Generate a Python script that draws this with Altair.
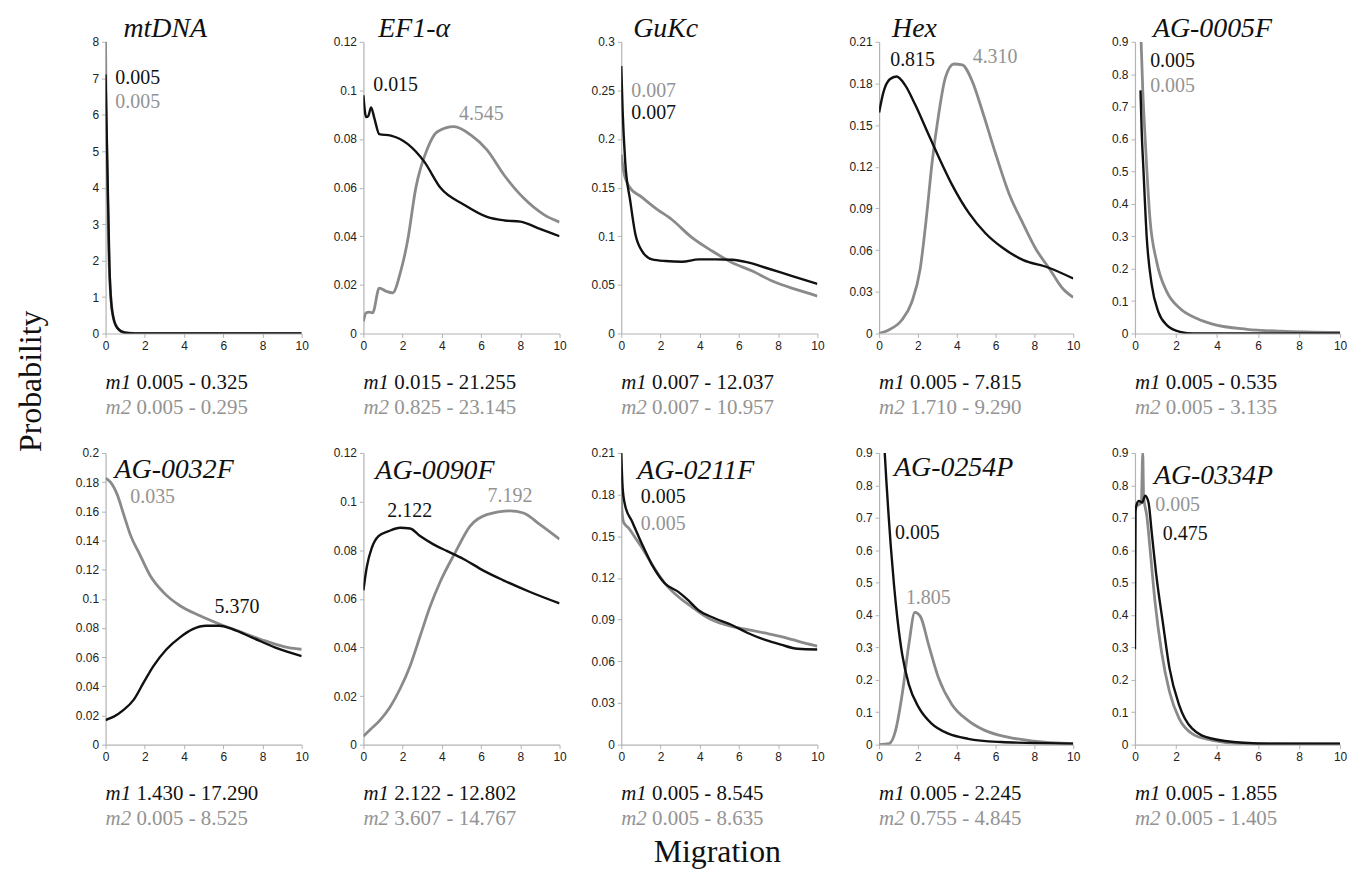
import altair as alt
import pandas as pd

# ---------------- data ----------------
PANELS = ["mtDNA", "EF1-\u03b1", "GuKc", "Hex", "AG-0005F",
          "AG-0032F", "AG-0090F", "AG-0211F", "AG-0254P", "AG-0334P"]
Y_MAX = [8, 0.12, 0.3, 0.21, 0.9, 0.2, 0.12, 0.21, 0.9, 0.9]
Y_STEP = [1, 0.02, 0.05, 0.03, 0.1, 0.02, 0.02, 0.03, 0.1, 0.1]

M1_MODE = [0.005, 0.015, 0.007, 0.815, 0.005, 5.370, 2.122, 0.005, 0.005, 0.475]
M2_MODE = [0.005, 4.545, 0.007, 4.310, 0.005, 0.035, 7.192, 0.005, 1.805, 0.005]
M1_LO = [0.005, 0.015, 0.007, 0.005, 0.005, 1.430, 2.122, 0.005, 0.005, 0.005]
M1_HI = [0.325, 21.255, 12.037, 7.815, 0.535, 17.290, 12.802, 8.545, 2.245, 1.855]
M2_LO = [0.005, 0.825, 0.007, 1.710, 0.005, 0.005, 3.607, 0.005, 0.755, 0.005]
M2_HI = [0.295, 23.145, 10.957, 9.290, 3.135, 8.525, 14.767, 8.635, 4.845, 1.405]

mtdna_m1_x = [0, 0.04, 0.13, 0.2, 0.34, 0.6, 1.0, 1.5, 10]
mtdna_m1_y = [7.1, 6.0, 3.6, 1.8, 0.6, 0.15, 0.02, 0, 0]
mtdna_m2_x = [0, 0.02, 0.08, 0.15, 0.3, 0.5, 0.9, 1.5, 10]
mtdna_m2_y = [8, 6.6, 4.5, 2.5, 0.8, 0.25, 0.03, 0, 0]

ef1_m1_x = [0, 0.14, 0.25, 0.39, 0.56, 0.81, 1.4, 2.25, 3.1, 3.94, 5.13, 6.3, 7.2, 8.0, 9.0, 10]
ef1_m1_y = [0.098, 0.089, 0.0895, 0.093, 0.0885, 0.082, 0.0814, 0.078, 0.0707, 0.0598, 0.053,
            0.048, 0.0465, 0.046, 0.043, 0.040]
ef1_m2_x = [0, 0.14, 0.3, 0.47, 0.81, 1.15, 1.49, 1.9, 2.25, 2.67, 3.27, 3.77, 4.62, 5.47, 6.3,
            7.16, 8.17, 9.2, 10]
ef1_m2_y = [0.005, 0.0085, 0.0088, 0.0085, 0.0187, 0.0174, 0.0167, 0.0256, 0.038, 0.0598, 0.0762,
            0.083, 0.0851, 0.0817, 0.0755, 0.0653, 0.0557, 0.0489, 0.0458]

gukc_m1_x = [0, 0.07, 0.2, 0.46, 0.72, 1.06, 1.57, 2.25, 3.1, 3.95, 4.8, 5.66, 6.5, 7.36, 8.72, 10]
gukc_m1_y = [0.275, 0.229, 0.177, 0.136, 0.102, 0.0848, 0.0762, 0.0745, 0.0738, 0.0762, 0.0762,
             0.0759, 0.0728, 0.0676, 0.059, 0.0511]
gukc_m2_x = [0, 0.12, 0.37, 1.06, 1.74, 2.59, 3.61, 4.63, 5.66, 6.68, 7.7, 8.9, 10]
gukc_m2_y = [0.184, 0.167, 0.152, 0.14, 0.129, 0.117, 0.0985, 0.0848, 0.0728, 0.0642, 0.0539,
             0.0453, 0.0385]

hex_m1_x = [0, 0.21, 0.55, 0.9, 1.33, 1.85, 2.46, 3.07, 3.76, 4.63, 5.49, 6.36, 7.4, 8.7, 10]
hex_m1_y = [0.159, 0.173, 0.183, 0.185, 0.179, 0.165, 0.146, 0.127, 0.107, 0.0866, 0.072, 0.0617,
            0.053, 0.0475, 0.0396]
hex_m2_x = [0, 0.47, 1.16, 1.68, 2.11, 2.46, 2.72, 3.07, 3.41, 3.85, 4.28, 4.8, 5.32, 6.01, 6.71,
            7.4, 8.09, 8.79, 9.48, 10]
hex_m2_y = [0.0, 0.0024, 0.0095, 0.0225, 0.046, 0.0866, 0.122, 0.158, 0.184, 0.194, 0.1934, 0.1815,
            0.16, 0.129, 0.1, 0.0795, 0.0605, 0.0463, 0.032, 0.026]

ag5_m1_x = [0.27, 0.33, 0.41, 0.57, 0.82, 1.14, 1.55, 2.2, 2.85, 10]
ag5_m1_y = [0.75, 0.62, 0.51, 0.30, 0.149, 0.067, 0.026, 0.005, 0.0, 0.0]
ag5_m2_x = [0.3, 0.38, 0.49, 0.73, 1.06, 1.55, 2.2, 3.02, 3.83, 5.46, 7.1, 10]
ag5_m2_y = [0.9, 0.75, 0.61, 0.355, 0.221, 0.129, 0.077, 0.046, 0.028, 0.013, 0.007, 0.003]

ag32_m1_x = [0, 0.42, 0.92, 1.43, 1.93, 2.44, 3.11, 3.78, 4.45, 5.13, 5.8, 6.47, 7.48, 8.66, 10]
ag32_m1_y = [0.0169, 0.0192, 0.0238, 0.0307, 0.0423, 0.0538, 0.0654, 0.0734, 0.0792, 0.0815,
             0.0815, 0.0792, 0.0734, 0.0665, 0.0607]
ag32_m2_x = [0, 0.25, 0.59, 0.92, 1.26, 1.76, 2.27, 2.94, 3.78, 4.79, 5.8, 6.97, 8.15, 9.33, 10]
ag32_m2_y = [0.1827, 0.18, 0.1716, 0.158, 0.144, 0.13, 0.116, 0.1046, 0.0954, 0.0885, 0.0827,
             0.0769, 0.0711, 0.0665, 0.0654]

ag90_m1_x = [0, 0.17, 0.43, 0.77, 1.28, 1.87, 2.38, 2.89, 3.57, 4.25, 5.1, 6.12, 7.14, 8.5, 10]
ag90_m1_y = [0.0635, 0.073, 0.081, 0.0858, 0.0878, 0.0892, 0.0889, 0.0858, 0.0824, 0.0797, 0.0764,
             0.0716, 0.0676, 0.0628, 0.0581]
ag90_m2_x = [0, 0.34, 0.85, 1.36, 1.87, 2.38, 2.89, 3.4, 3.91, 4.68, 5.44, 6.29, 7.48, 8.16, 9.01, 10]
ag90_m2_y = [0.0034, 0.0061, 0.0101, 0.0155, 0.023, 0.0324, 0.0446, 0.0568, 0.0669, 0.079, 0.0899,
             0.0946, 0.0962, 0.0953, 0.0905, 0.0845]

ag211_m1_x = [0, 0.07, 0.2, 0.54, 1.05, 1.55, 2.23, 2.91, 3.41, 3.92, 4.76, 5.61, 6.45, 7.3, 8.14,
              8.99, 10]
ag211_m1_y = [0.21, 0.185, 0.172, 0.161, 0.1446, 0.130, 0.116, 0.110, 0.104, 0.097, 0.091, 0.0863,
              0.0804, 0.0756, 0.072, 0.069, 0.0685]
ag211_m2_x = [0, 0.03, 0.12, 0.37, 0.71, 1.05, 1.55, 2.23, 2.91, 3.58, 4.43, 5.61, 6.45, 7.3, 8.31,
              9.32, 10]
ag211_m2_y = [0.1945, 0.17, 0.16, 0.156, 0.149, 0.142, 0.130, 0.116, 0.1065, 0.0994, 0.0911, 0.0851,
              0.0828, 0.0804, 0.0773, 0.0732, 0.0709]

ag254_m1_x = [0.29, 0.37, 0.48, 0.6, 0.77, 0.94, 1.19, 1.53, 2.04, 2.72, 3.57, 4.59, 6.29, 8, 10]
ag254_m1_y = [0.9, 0.817, 0.715, 0.613, 0.491, 0.39, 0.278, 0.186, 0.115, 0.064, 0.034, 0.018,
              0.008, 0.005, 0.003]
ag254_m2_x = [0, 0.51, 0.85, 1.19, 1.53, 1.84, 2.13, 2.55, 3.06, 3.74, 4.59, 5.44, 6.63, 8, 10]
ag254_m2_y = [0, 0.003, 0.044, 0.156, 0.308, 0.408, 0.395, 0.308, 0.206, 0.125, 0.074, 0.044,
              0.023, 0.011, 0.003]

ag334_m1_x = [0, 0.03, 0.1, 0.19, 0.35, 0.5, 0.66, 0.82, 1.05, 1.37, 1.68, 2.15, 2.78, 3.72, 5.29,
              6.86, 10]
ag334_m1_y = [0.294, 0.72, 0.745, 0.752, 0.747, 0.768, 0.747, 0.653, 0.518, 0.372, 0.237, 0.123,
              0.05, 0.019, 0.006, 0.003, 0.003]
ag334_m2_x = [0.11, 0.31, 0.38, 0.42, 0.58, 0.74, 0.97, 1.29, 1.68, 2.15, 2.78, 3.72, 5.29, 10]
ag334_m2_y = [0.737, 0.747, 0.9, 0.768, 0.705, 0.601, 0.445, 0.289, 0.164, 0.081, 0.034, 0.014,
              0.003, 0.002]

CURVES = [
    (mtdna_m1_x, mtdna_m1_y, mtdna_m2_x, mtdna_m2_y),
    (ef1_m1_x, ef1_m1_y, ef1_m2_x, ef1_m2_y),
    (gukc_m1_x, gukc_m1_y, gukc_m2_x, gukc_m2_y),
    (hex_m1_x, hex_m1_y, hex_m2_x, hex_m2_y),
    (ag5_m1_x, ag5_m1_y, ag5_m2_x, ag5_m2_y),
    (ag32_m1_x, ag32_m1_y, ag32_m2_x, ag32_m2_y),
    (ag90_m1_x, ag90_m1_y, ag90_m2_x, ag90_m2_y),
    (ag211_m1_x, ag211_m1_y, ag211_m2_x, ag211_m2_y),
    (ag254_m1_x, ag254_m1_y, ag254_m2_x, ag254_m2_y),
    (ag334_m1_x, ag334_m1_y, ag334_m2_x, ag334_m2_y),
]

# ---------------- annotation placement (data units) ----------------
M1_LAB_X = [0.5, 0.5, 0.51, 0.57, 0.74, 5.56, 1.22, 1.0, 0.82, 1.36]
M1_LAB_Y = [7.0, 0.1023, 0.2265, 0.197, 0.842, 0.0944, 0.0961, 0.178, 0.653, 0.650]
M2_LAB_X = [0.5, 4.87, 0.51, 4.82, 0.74, 1.26, 6.33, 1.0, 1.38, 0.99]
M2_LAB_Y = [6.35, 0.0904, 0.2495, 0.199, 0.764, 0.170, 0.1021, 0.159, 0.4515, 0.7400]

# ---------------- layout / style ----------------
COL_W = [197, 197, 197, 195, 206]
PANEL_H = 293
TITLE_DX = [18, 15, 12, 13, 18, 9, 12, 16, 15, 19]
TITLE_DY = [-5, -5, -5, -5, -5, 25, 26, 26, 23, 31]
SERIF = "Liberation Serif"
SANS = "Liberation Sans"
BLACK = "#111111"
GRAY = "#8a8a8a"
GRAY_TXT = "#939393"


def panel(i):
    w, h = COL_W[i % 5], PANEL_H
    m1x, m1y, m2x, m2y = CURVES[i]
    n = int(round(Y_MAX[i] / Y_STEP[i]))
    yvals = [round(k * Y_STEP[i], 4) for k in range(n + 1)]
    X = alt.X("x:Q", scale=alt.Scale(domain=[0, 10], nice=False),
              axis=alt.Axis(values=[0, 2, 4, 6, 8, 10], title=None, labelFlush=False,
                            labelOverlap=False))
    Y = alt.Y("y:Q", scale=alt.Scale(domain=[0, Y_MAX[i]], nice=False, zero=True),
              axis=alt.Axis(values=yvals, format=".2~f", title=None, labelFlush=False,
                            labelOverlap=False))

    d2 = pd.DataFrame({"x": m2x, "y": m2y})
    d1 = pd.DataFrame({"x": m1x, "y": m1y})
    l2 = alt.Chart(d2).mark_line(color=GRAY, strokeWidth=2.8, interpolate="monotone",
                                 clip=True).encode(x=X, y=Y)
    l1 = alt.Chart(d1).mark_line(color=BLACK, strokeWidth=2.4, interpolate="monotone",
                                 clip=True).encode(x=X, y=Y)

    lab = pd.DataFrame({
        "x": [M1_LAB_X[i], M2_LAB_X[i]],
        "y": [M1_LAB_Y[i], M2_LAB_Y[i]],
        "t": [f"{M1_MODE[i]:.3f}", f"{M2_MODE[i]:.3f}"],
        "c": [BLACK, GRAY_TXT],
    })
    labels = alt.Chart(lab).mark_text(align="left", baseline="middle", font=SERIF,
                                      fontSize=20).encode(
        x=X, y=Y, text="t:N", color=alt.Color("c:N", scale=None))

    title = alt.Chart(pd.DataFrame({"t": [PANELS[i]]})).mark_text(
        align="left", baseline="alphabetic", font=SERIF, fontStyle="italic", fontSize=28,
        color=BLACK).encode(text="t:N", x=alt.value(TITLE_DX[i]), y=alt.value(TITLE_DY[i]))

    m1a = alt.Chart(pd.DataFrame({"t": ["m1"]})).mark_text(
        align="left", baseline="middle", font=SERIF, fontStyle="italic", fontSize=21,
        color=BLACK).encode(text="t:N", x=alt.value(0), y=alt.value(h + 50))
    m1b = alt.Chart(pd.DataFrame({"t": [f"{M1_LO[i]:.3f} - {M1_HI[i]:.3f}"]})).mark_text(
        align="left", baseline="middle", font=SERIF, fontSize=21,
        color=BLACK).encode(text="t:N", x=alt.value(31), y=alt.value(h + 50))
    m2a = alt.Chart(pd.DataFrame({"t": ["m2"]})).mark_text(
        align="left", baseline="middle", font=SERIF, fontStyle="italic", fontSize=21,
        color=GRAY_TXT).encode(text="t:N", x=alt.value(0), y=alt.value(h + 75))
    m2b = alt.Chart(pd.DataFrame({"t": [f"{M2_LO[i]:.3f} - {M2_HI[i]:.3f}"]})).mark_text(
        align="left", baseline="middle", font=SERIF, fontSize=21,
        color=GRAY_TXT).encode(text="t:N", x=alt.value(31), y=alt.value(h + 75))

    layers = [l2, l1, labels, title, m1a, m1b, m2a, m2b]
    if i == 5:
        layers.append(alt.Chart(pd.DataFrame({"t": ["Probability"]})).mark_text(
            align="center", baseline="middle", font=SERIF, fontSize=32, angle=270,
            color=BLACK).encode(text="t:N", x=alt.value(-75), y=alt.value(-72)))
    if i == 7:
        layers.append(alt.Chart(pd.DataFrame({"t": ["Migration"]})).mark_text(
            align="center", baseline="middle", font=SERIF, fontSize=32,
            color=BLACK).encode(text="t:N", x=alt.value(w / 2 - 2), y=alt.value(401)))
    return alt.layer(*layers).properties(width=w, height=h)


chart = alt.concat(*[panel(i) for i in range(10)], columns=5,
                   spacing={"row": 120, "column": 62}, bounds="flush", align="each").properties(
    padding={"left": 6, "top": 5, "right": 5, "bottom": 5}
).configure_view(stroke=None).configure_axis(
    domainColor="#b3b3b3", tickColor="#b3b3b3", labelColor="#222222", labelFont=SANS,
    labelFontSize=12, grid=False, tickSize=4, labelPadding=3, domainWidth=1.2
)

chart.save("out.html", embed_options={"renderer": "svg", "actions": False})
